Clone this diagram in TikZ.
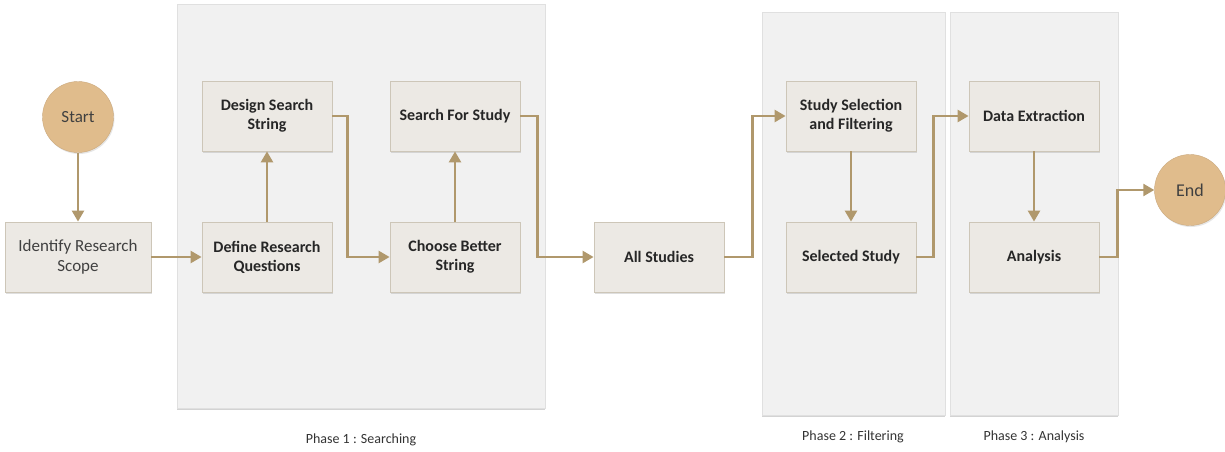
\documentclass[tikz,border=0pt]{standalone}
\usepackage{fontspec}
\setmainfont{Carlito}
\usetikzlibrary{arrows.meta,shadows}
\definecolor{arr}{RGB}{176,152,108}
\definecolor{circ}{RGB}{224,188,140}
\definecolor{boxfill}{RGB}{236,233,228}
\definecolor{boxline}{RGB}{205,198,184}
\definecolor{panel}{RGB}{241,241,241}
\tikzset{
  panelbox/.style={fill=panel, draw=panel!93!black, line width=0.4pt, drop shadow={opacity=0.35, shadow xshift=0pt, shadow yshift=-2pt}},
  stepbox/.style={draw=boxline, fill=boxfill, line width=0.8pt, minimum width=130pt, minimum height=70pt, align=center, font=\bfseries\fontsize{16}{19}\selectfont, text=black!85, drop shadow={opacity=0.25, shadow xshift=1pt, shadow yshift=-1.5pt}},
  lightbox/.style={stepbox, minimum width=146pt, font=\fontsize{17}{20}\selectfont, text=black!75},
  endpoint/.style={circle, fill=circ, draw=circ!90!black, line width=0.4pt, minimum size=71pt, inner sep=0pt, text=black!75, drop shadow={opacity=0.2, shadow xshift=1pt, shadow yshift=-1.5pt}},
  flow/.style={draw=arr, line width=2.4pt, -{Triangle[length=11pt, width=12pt]}},
  phaselabel/.style={font=\fontsize{14}{16}\selectfont, text=black!80},
}
\begin{document}
\begin{tikzpicture}[x=1pt, y=-1pt]
\useasboundingbox (0,0) rectangle (1225,452);
% panels
\path[panelbox] (177,4) rectangle (545,408);
\path[panelbox] (762,12) rectangle (945,415);
\path[panelbox] (950,12) rectangle (1118,415);
% nodes
\node[endpoint, font=\fontsize{17}{19}\selectfont] (start) at (78,117) {Start};
\node[lightbox] (identify) at (78,257) {Identify Research\\Scope};
\node[stepbox] (define) at (267,257) {Define Research\\Questions};
\node[stepbox] (design) at (267,116) {Design Search\\String};
\node[stepbox] (search) at (455,116) {Search For Study};
\node[stepbox] (choose) at (455,257) {Choose Better\\String};
\node[stepbox] (all) at (659,257) {All Studies};
\node[stepbox] (select) at (851,116) {Study Selection\\and Filtering};
\node[stepbox] (selected) at (851,257) {Selected Study};
\node[stepbox] (extract) at (1034,116) {Data Extraction};
\node[stepbox] (analysis) at (1034,257) {Analysis};
\node[endpoint, font=\fontsize{18}{20}\selectfont] (end) at (1190,190) {End};
% connectors
\draw[flow] (start) -- (identify);
\draw[flow] (identify) -- (define);
\draw[flow] (define) -- (design);
\draw[flow] (design.east) -- ++(15,0) |- (choose.west);
\draw[flow] (choose) -- (search);
\draw[flow] (search.east) -- ++(17,0) |- (all.west);
\draw[flow] (all.east) -- ++(28,0) |- (select.west);
\draw[flow] (select) -- (selected);
\draw[flow] (selected.east) -- ++(17,0) |- (extract.west);
\draw[flow] (extract) -- (analysis);
\draw[flow] (analysis.east) -- ++(18,0) |- (end.west);
% phase labels
\node[phaselabel] (p1) at (361,440) {Phase 1 : Searching};
\node[phaselabel] (p2) at (853,437) {Phase 2 : Filtering};
\node[phaselabel] (p3) at (1034,437) {Phase 3 : Analysis};
\end{tikzpicture}
\end{document}
